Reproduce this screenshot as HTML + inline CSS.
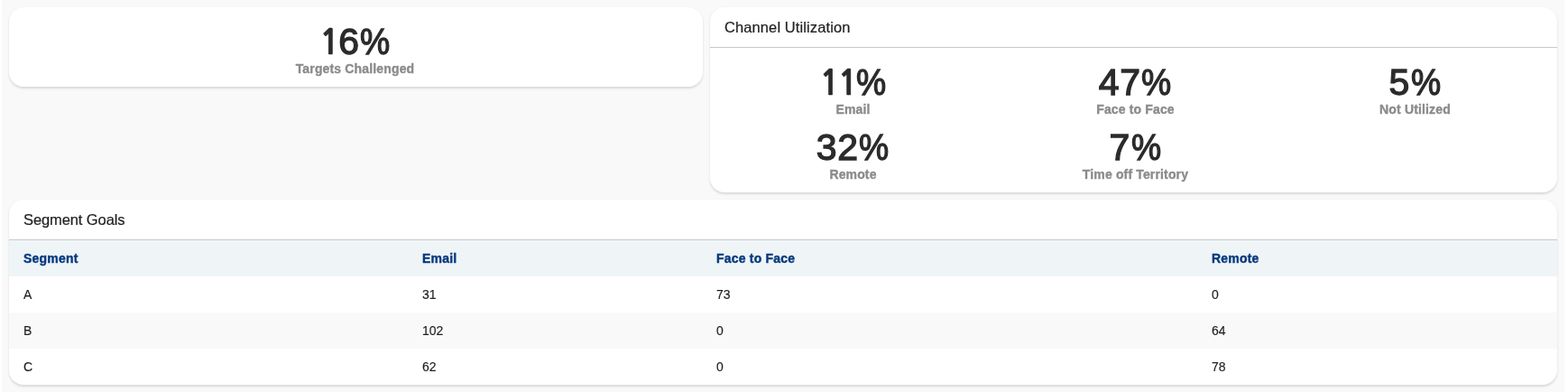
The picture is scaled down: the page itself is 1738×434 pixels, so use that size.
<!DOCTYPE html>
<html>
<head>
<meta charset="utf-8">
<style>
html,body{margin:0;padding:0;background:#fff;}
body{width:1738px;height:434px;overflow:hidden;position:relative;font-family:"Liberation Sans",Arial,sans-serif;color:#222;}
.bg{position:absolute;left:2px;top:0;width:1732px;height:434px;background:#f9f9f9;}
.card{position:absolute;background:#fff;border-radius:16px;box-shadow:0 1.5px 2.5px rgba(0,0,0,0.13);overflow:hidden;}
.c1{left:10px;top:8px;width:769px;height:88px;}
.c2{left:787px;top:8px;width:939px;height:205px;}
.c3{left:10px;top:221px;width:1716px;height:205px;}
.hdr{height:45px;border-bottom:1px solid #c9c9c9;box-sizing:border-box;padding-left:16px;font-size:16.5px;line-height:44px;color:#222;letter-spacing:0.1px;-webkit-text-stroke:0.2px #222;}
.stat{position:absolute;text-align:center;width:311px;}
.num{font-size:41px;font-weight:normal;line-height:42px;color:#2b2b2b;letter-spacing:0.8px;-webkit-text-stroke:1.3px #2b2b2b;}
.num .one{font-family:NanumGothic,"Liberation Sans",sans-serif;font-weight:bold;font-size:38.5px;line-height:0;-webkit-text-stroke:0.6px #2b2b2b;}
.num .pc{display:inline-block;transform:scaleX(0.91);transform-origin:0 0;margin-left:0.5px;margin-right:-3.3px;}
.lbl{font-size:14px;font-weight:bold;color:#8b8b8b;line-height:16px;margin-top:1px;letter-spacing:0.15px;-webkit-text-stroke:0.35px #8b8b8b;}
table{border-collapse:collapse;width:100%;font-size:14px;}
th{background:#eff4f7;color:#063a7d;text-align:left;font-weight:bold;height:40px;padding:0 0 0 16px;font-size:14px;letter-spacing:0.2px;-webkit-text-stroke:0.4px #063a7d;}
td{height:40px;padding:0 0 0 16px;color:#1f1f1f;-webkit-text-stroke:0.15px #1f1f1f;}
tr.s td{background:#f9f9f9;}
</style>
</head>
<body>
<div class="bg"></div>
<div class="card c1">
  <div class="stat" style="left:228px;top:17px;"><div class="num"><span class="one" style="letter-spacing:-2px">1</span>6<span class="pc">%</span></div><div class="lbl">Targets Challenged</div></div>
</div>
<div class="card c2">
  <div class="hdr">Channel Utilization</div>
  <div class="stat" style="left:3px;top:62px;"><div class="num"><span class="one" style="letter-spacing:-3px">1</span><span class="one" style="letter-spacing:-3px">1</span><span class="pc">%</span></div><div class="lbl">Email</div></div>
  <div class="stat" style="left:316px;top:62px;"><div class="num">47<span class="pc">%</span></div><div class="lbl">Face to Face</div></div>
  <div class="stat" style="left:626px;top:62px;"><div class="num">5<span class="pc">%</span></div><div class="lbl">Not Utilized</div></div>
  <div class="stat" style="left:3px;top:134px;"><div class="num">32<span class="pc">%</span></div><div class="lbl">Remote</div></div>
  <div class="stat" style="left:316px;top:134px;"><div class="num">7<span class="pc">%</span></div><div class="lbl">Time off Territory</div></div>
</div>
<div class="card c3">
  <div class="hdr" style="letter-spacing:-0.1px">Segment Goals</div>
  <table>
    <colgroup><col style="width:442px"><col style="width:326px"><col style="width:549px"><col></colgroup>
    <tr><th>Segment</th><th>Email</th><th>Face to Face</th><th>Remote</th></tr>
    <tr><td>A</td><td>31</td><td>73</td><td>0</td></tr>
    <tr class="s"><td>B</td><td>102</td><td>0</td><td>64</td></tr>
    <tr><td>C</td><td>62</td><td>0</td><td>78</td></tr>
  </table>
</div>
</body>
</html>
